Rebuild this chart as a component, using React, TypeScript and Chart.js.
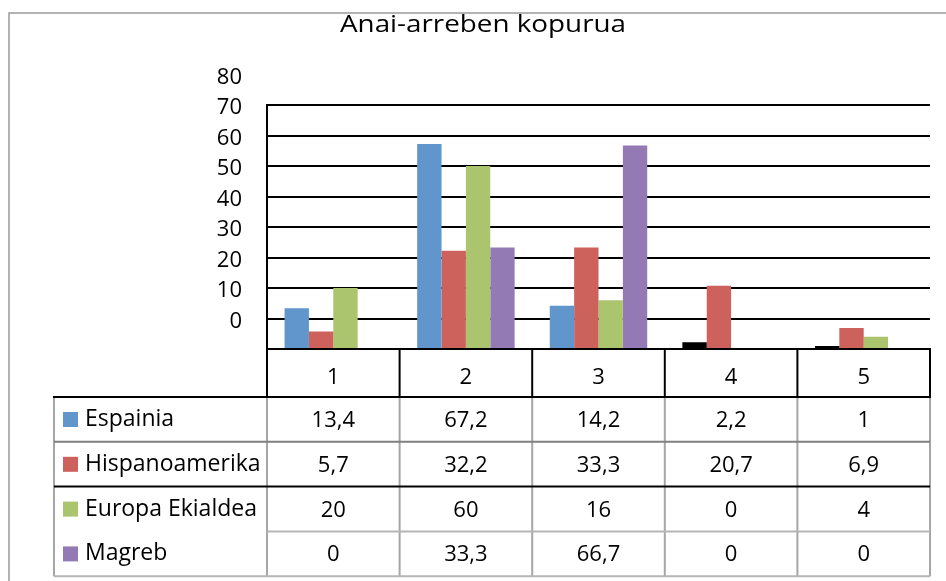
import { useEffect, useRef } from 'react';
import { Chart, registerables } from 'chart.js';

Chart.register(...registerables);

const chartTitle = 'Anai-arreben kopurua';
const categories = ['1', '2', '3', '4', '5'];
const seriesNames = ['Espainia', 'Hispanoamerika', 'Europa Ekialdea', 'Magreb'];
const espainia = [13.4, 67.2, 14.2, 2.2, 1];
const hispanoamerika = [5.7, 32.2, 33.3, 20.7, 6.9];
const europaEkialdea = [20, 60, 16, 0, 4];
const magreb = [0, 33.3, 66.7, 0, 0];
const yTickLabels = ['0', '10', '20', '30', '40', '50', '60', '70', '80'];

const FONT = '"Open Sans", sans-serif';
const seriesColors = ['#6196cc', '#cd625d', '#abc46e', '#937ab4'];
const espainiaBarColors = ['#6196cc', '#6196cc', '#6196cc', '#000000', '#000000'];

const fmt = (v: number) => String(v).replace('.', ',');

export default function App() {
  const ref = useRef<HTMLCanvasElement>(null);

  useEffect(() => {
    document.body.style.margin = '0';
    const series = [espainia, hispanoamerika, europaEkialdea, magreb];

    const tablePlugin = {
      id: 'excelTable',
      afterDraw(chart: any) {
        const { ctx, chartArea: a, scales } = chart;
        const y = scales.y;
        const n = categories.length;
        const cw = (a.right - a.left) / n;
        const edge = (i: number) => a.left + i * cw;
        const catTop = a.bottom;
        const catBottom = a.bottom + 48;
        const rowH = 44.8;
        const rowTop = (r: number) => catBottom + r * rowH;
        const legendLeft = 54;
        const tableBottom = rowTop(series.length);

        ctx.save();
        // outer border
        ctx.strokeStyle = '#9a9a9a';
        ctx.lineWidth = 1.5;
        ctx.beginPath();
        ctx.moveTo(9, chart.height);
        ctx.lineTo(9, 13);
        ctx.lineTo(chart.width, 13);
        ctx.stroke();

        // title
        ctx.fillStyle = '#000';
        ctx.font = `24px ${FONT}`;
        const tw = ctx.measureText(chartTitle).width;
        ctx.save();
        ctx.translate(483, 32);
        ctx.scale(286 / tw, 1);
        ctx.textAlign = 'center';
        ctx.textBaseline = 'alphabetic';
        ctx.fillText(chartTitle, 0, 0);
        ctx.restore();

        const line = (x1: number, y1: number, x2: number, y2: number, color: string, w = 2) => {
          ctx.strokeStyle = color;
          ctx.lineWidth = w;
          ctx.beginPath();
          ctx.moveTo(x1, y1);
          ctx.lineTo(x2, y2);
          ctx.stroke();
        };

        // data table verticals (gray)
        for (let i = 0; i <= n; i++) line(edge(i), catBottom, edge(i), tableBottom, '#a6a6a6');
        line(legendLeft, catBottom, legendLeft, tableBottom, '#a6a6a6');
        // row separators
        line(legendLeft, rowTop(1), a.right, rowTop(1), '#7f7f7f');
        line(legendLeft, rowTop(2), a.right, rowTop(2), '#000');
        line(a.left, rowTop(3), a.right, rowTop(3), '#b5b5b5');
        line(legendLeft, tableBottom, a.right, tableBottom, '#b5b5b5');

        // axis line + category row box (black)
        line(a.left, y.getPixelForValue(80) - 1, a.left, catBottom, '#000');
        line(a.left - 1, catTop, a.right + 1, catTop, '#000');
        for (let i = 1; i <= n; i++) line(edge(i), catTop, edge(i), catBottom, '#000');
        line(legendLeft - 1, catBottom, a.right + 1, catBottom, '#000');

        // category labels
        ctx.fillStyle = '#000';
        ctx.textAlign = 'center';
        ctx.textBaseline = 'alphabetic';
        ctx.font = `22px ${FONT}`;
        categories.forEach((c, i) => {
          ctx.fillText(c, edge(i) + cw / 2, catTop + 35);
        });

        // legend column and values
        series.forEach((vals, r) => {
          const top = rowTop(r);
          ctx.fillStyle = seriesColors[r];
          ctx.fillRect(63, top + 15, 15, 15);
          ctx.fillStyle = '#000';
          ctx.textAlign = 'left';
          ctx.font = `23px ${FONT}`;
          ctx.fillText(seriesNames[r], 85, top + 29);
          ctx.textAlign = 'center';
          ctx.font = `22px ${FONT}`;
          vals.forEach((v, i) => {
            ctx.fillText(fmt(v), edge(i) + cw / 2, top + 30);
          });
        });
        ctx.restore();
      },
    };

    const chart = new Chart(ref.current as HTMLCanvasElement, {
      type: 'bar',
      data: {
        labels: categories,
        datasets: seriesNames.map((name, i) => ({
          label: name,
          data: series[i],
          backgroundColor: i === 0 ? espainiaBarColors : seriesColors[i],
          borderWidth: 0,
          barPercentage: 1,
          categoryPercentage: 0.735,
        })),
      },
      options: {
        responsive: false,
        animation: false,
        devicePixelRatio: 1,
        layout: { padding: { top: 74.5, right: 16, bottom: 232, left: 0 } },
        plugins: {
          legend: { display: false },
          title: { display: false },
          tooltip: { enabled: false },
        },
        scales: {
          x: { display: false },
          y: {
            min: 0,
            max: 90,
            afterFit: (s: any) => {
              s.width = 267;
            },
            border: { display: false },
            grid: {
              drawTicks: false,
              lineWidth: 2,
              color: (c: any) => (c.tick && c.tick.value === 90 ? 'rgba(0,0,0,0)' : '#000'),
            },
            ticks: {
              stepSize: 10,
              padding: 25,
              labelOffset: 3,
              color: '#000',
              font: { family: FONT, size: 22 },
              callback: (_v: any, idx: number) => (idx === 0 ? '' : yTickLabels[idx - 1]),
            },
          },
        },
      },
      plugins: [tablePlugin],
    });
    return () => chart.destroy();
  }, []);

  return (
    <div style={{ position: 'absolute', left: 0, top: 0, width: 946, height: 581 }}>
      <canvas ref={ref} width={946} height={581} style={{ display: 'block' }} />
    </div>
  );
}
